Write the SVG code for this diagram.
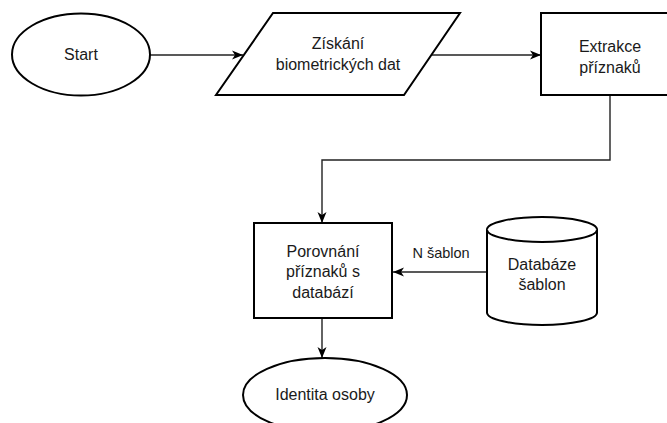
<svg xmlns="http://www.w3.org/2000/svg" width="667" height="423" viewBox="0 0 667 423">
<style>
.s{fill:#fff;stroke:#000;stroke-width:2}
.t{font-family:"Liberation Sans",Arial,sans-serif;font-size:16px;fill:#1a1a1a;text-anchor:middle}
.l{font-family:"Liberation Sans",Arial,sans-serif;font-size:14.5px;fill:#1a1a1a;text-anchor:middle}
.c{fill:none;stroke:#222;stroke-width:1.4}
</style>
<defs>
<marker id="a" markerUnits="userSpaceOnUse" markerWidth="12" markerHeight="12" viewBox="0 0 12 12" refX="11" refY="6" orient="auto">
<path d="M0,1.5 L11,6 L0,10.5 L3,6 z" fill="#000"/>
</marker>
</defs>
<g id="connectors">
<path class="c" d="M150,55 H243" marker-end="url(#a)"/>
<path class="c" d="M431,55 H541" marker-end="url(#a)"/>
<path class="c" d="M610,95 V160 H322 V223" marker-end="url(#a)"/>
<path class="c" d="M487,272 H393" marker-end="url(#a)"/>
<path class="c" d="M322,318 V358" marker-end="url(#a)"/>
<text class="l" x="441" y="258">N šablon</text>
</g>
<g id="start">
<ellipse class="s" cx="81" cy="54.5" rx="69" ry="41"/>
<text class="t" x="81" y="60">Start</text>
</g>
<g id="ziskani">
<path class="s" d="M273,13 H460 L404,95 H216 Z"/>
<text class="t" x="338" y="49">Získání</text>
<text class="t" x="338" y="70">biometrických dat</text>
</g>
<g id="extrakce">
<rect class="s" x="541" y="13" width="138" height="82"/>
<text class="t" x="610" y="52">Extrakce</text>
<text class="t" x="610" y="73">příznaků</text>
</g>
<g id="porovnani">
<rect class="s" x="254" y="223" width="138" height="95"/>
<text class="t" x="323" y="257">Porovnání</text>
<text class="t" x="323" y="277">příznaků s</text>
<text class="t" x="323" y="298">databází</text>
</g>
<g id="databaze">
<path class="s" d="M487,229.5 A55,12.5 0 0 1 597,229.5 V312.5 A55,12.5 0 0 1 487,312.5 Z"/>
<path class="s" fill="none" d="M487,229.5 A55,12.5 0 0 0 597,229.5"/>
<text class="t" x="542" y="270">Databáze</text>
<text class="t" x="542" y="290">šablon</text>
</g>
<g id="identita">
<ellipse class="s" cx="325" cy="395" rx="82" ry="37"/>
<text class="t" x="325" y="400">Identita osoby</text>
</g>
</svg>
